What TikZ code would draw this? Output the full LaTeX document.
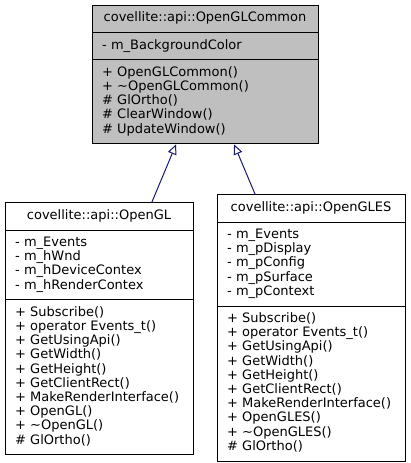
\documentclass[tikz,border=0pt]{standalone}
\usepackage{fontspec}
\setmainfont{DejaVu Sans}
\usetikzlibrary{positioning,arrows.meta,shapes}
\definecolor{basegray}{HTML}{BFBFBF}
\definecolor{midnight}{HTML}{191970}
\tikzstyle{classbox}=[rectangle, draw=black, line width=1pt, rectangle split, rectangle split parts=3,
inner xsep=10pt, inner ysep=6pt, align=left, font=\fontsize{13}{14.2}\selectfont, anchor=north]
\tikzstyle{basebox}=[classbox, fill=basegray, text width=206pt]
\tikzstyle{subbox}=[classbox, fill=white, text width=168pt]
\tikzstyle{inherit}=[-{Triangle[open, length=10pt, width=9pt, fill=white]}, midnight, line width=1pt]
\newcommand\classname[1]{\makebox[\linewidth][c]{\strut #1}}

\begin{document}
\begin{tikzpicture}[node distance=0mm]
    \useasboundingbox (0pt,0pt) rectangle (411pt,-463pt);

    \node (common) [basebox] at (205pt,-5pt)
	{ \classname{covellite::api::OpenGLCommon}
	  \nodepart{second} \strut - m\_BackgroundColor
	  \nodepart{third} \strut + OpenGLCommon()\\ + \textasciitilde OpenGLCommon()\\ \# GlOrtho()\\
	  \# ClearWindow()\\ \# UpdateWindow()\strut
	};

    \node (opengl) [subbox, below=58pt of common.south, xshift=-106pt]
	{ \classname{covellite::api::OpenGL}
	  \nodepart{second} \strut - m\_Events\\ - m\_hWnd\\ - m\_hDeviceContex\\ - m\_hRenderContex\strut
	  \nodepart{third} \strut + Subscribe()\\ + operator Events\_t()\\ + GetUsingApi()\\ + GetWidth()\\
	  + GetHeight()\\ + GetClientRect()\\ + MakeRenderInterface()\\ + OpenGL()\\
	  + \textasciitilde OpenGL()\\ \# GlOrtho()\strut
	};

    \node (gles) [subbox, below=50pt of common.south, xshift=106pt]
	{ \classname{covellite::api::OpenGLES}
	  \nodepart{second} \strut - m\_Events\\ - m\_pDisplay\\ - m\_pConfig\\ - m\_pSurface\\ - m\_pContext\strut
	  \nodepart{third} \strut + Subscribe()\\ + operator Events\_t()\\ + GetUsingApi()\\ + GetWidth()\\
	  + GetHeight()\\ + GetClientRect()\\ + MakeRenderInterface()\\ + OpenGLES()\\
	  + \textasciitilde OpenGLES()\\ \# GlOrtho()\strut
	};

%inheritance, center to center, clipped at the borders
   \draw[inherit] (opengl) -- (common);
   \draw[inherit] (gles) -- (common);

\end{tikzpicture}
\end{document}
